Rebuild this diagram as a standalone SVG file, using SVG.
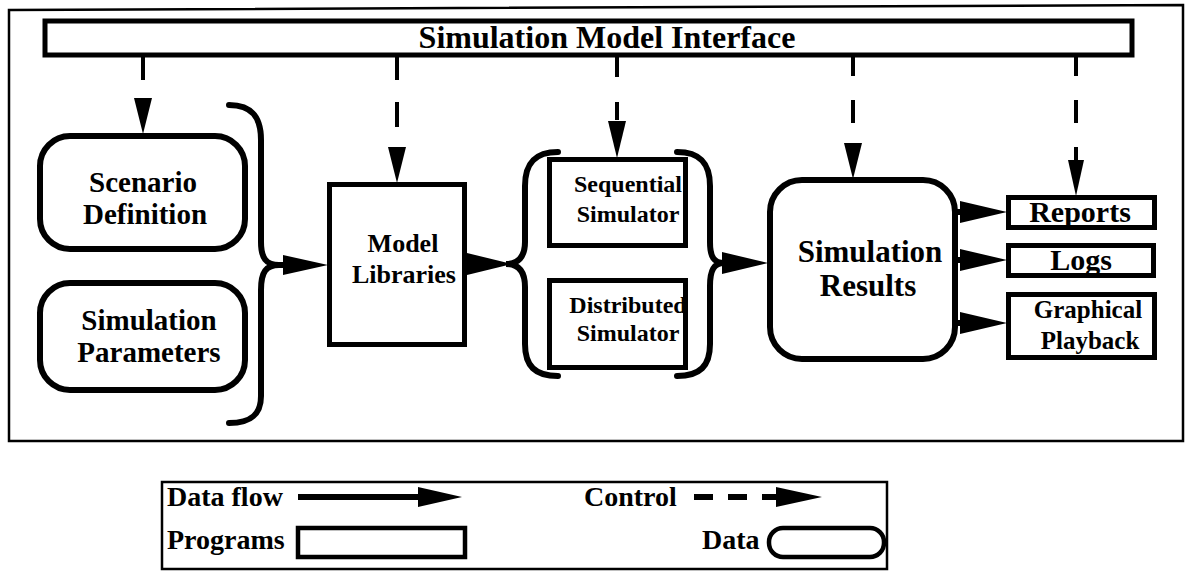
<svg xmlns="http://www.w3.org/2000/svg" width="1186" height="579" viewBox="0 0 1186 579">
<style>
text{font-family:"Liberation Serif","Times New Roman",serif;font-weight:bold;fill:#000}
.c{text-anchor:middle}
.prog{fill:#fff;stroke:#000;stroke-width:5}
.data{fill:#fff;stroke:#000;stroke-width:6}
.brace{fill:none;stroke:#000;stroke-width:6;stroke-linecap:round}
.ctrl{fill:none;stroke:#000;stroke-width:4}
.flow{fill:none;stroke:#000;stroke-width:6}
.head{fill:#000;stroke:none}
.frame{fill:none;stroke:#000;stroke-width:2.5}
</style>
<rect width="1186" height="579" fill="#fff"/>
<path class="frame" d="M9,10 L1183,5 L1183,441 L9,441 Z"/>

<g id="interface">
<rect class="prog" x="45" y="21" width="1087" height="34"/>
<text class="c" x="607" y="48" font-size="32">Simulation Model Interface</text>
</g>

<g id="scenario">
<rect class="data" x="40" y="136" width="205" height="113" rx="30"/>
<text class="c" x="143" y="192" font-size="29">Scenario</text>
<text class="c" x="145" y="224" font-size="29">Definition</text>
</g>

<g id="parameters">
<rect class="data" x="40" y="283" width="205" height="107" rx="30"/>
<text class="c" x="149" y="330" font-size="29">Simulation</text>
<text class="c" x="149" y="362" font-size="29">Parameters</text>
</g>

<g id="brace-inputs">
<path class="brace" d="M229,105 C252,105 261,117 261,140 L261,242 C261,258 266,265 279,265 C266,265 261,272 261,290 L261,396 C261,414 252,423 229,423"/>
</g>

<g id="model-libraries">
<rect class="prog" x="329.5" y="184.5" width="135" height="160"/>
<text class="c" x="403" y="252" font-size="26">Model</text>
<text class="c" x="404" y="283" font-size="26">Libraries</text>
</g>

<g id="brace-simulators">
<path class="brace" d="M558,152 C535,152 525,163 525,186 L525,242 C525,257 518,264 506,264 C518,264 525,271 525,287 L525,344 C525,366 535,376 558,376"/>
<path class="brace" d="M677,152 C700,152 710,163 710,186 L710,242 C710,257 714,263 724,263 C714,263 710,270 710,286 L710,344 C710,366 700,376 677,376"/>
</g>

<g id="sequential-simulator">
<rect class="prog" x="549.5" y="159.5" width="136" height="86"/>
<text class="c" x="628" y="192" font-size="24">Sequential</text>
<text class="c" x="628" y="222" font-size="24">Simulator</text>
</g>

<g id="distributed-simulator">
<rect class="prog" x="549.5" y="280.5" width="136" height="87"/>
<text class="c" x="628" y="313" font-size="24">Distributed</text>
<text class="c" x="628" y="341" font-size="24">Simulator</text>
</g>

<g id="simulation-results">
<rect class="data" x="770" y="180" width="185" height="179" rx="32"/>
<text class="c" x="870" y="262" font-size="31">Simulation</text>
<text class="c" x="868" y="296" font-size="31">Results</text>
</g>

<g id="reports">
<rect class="prog" x="1008.5" y="197.5" width="146" height="30"/>
<text class="c" x="1080" y="222" font-size="30">Reports</text>
</g>

<g id="logs">
<rect class="prog" x="1008.5" y="245.5" width="145" height="30"/>
<text class="c" x="1081" y="270" font-size="30">Logs</text>
</g>

<g id="graphical-playback">
<rect class="prog" x="1008.5" y="294.5" width="146" height="63"/>
<text class="c" x="1088" y="318" font-size="25">Graphical</text>
<text class="c" x="1090" y="349" font-size="25">Playback</text>
</g>

<g id="connectors">
<path class="ctrl" d="M143,57 V80"/>
<polygon class="head" points="134,98 152,98 143,134"/>
<path class="ctrl" d="M397,57 V80 M397,102 V127"/>
<polygon class="head" points="388,147 406,147 397,183"/>
<path class="ctrl" d="M617,57 V77 M617,102 V120"/>
<polygon class="head" points="608,121 626,121 617,158"/>
<path class="ctrl" d="M853,57 V76 M853,100 V123"/>
<polygon class="head" points="844,143 862,143 853,179"/>
<path class="ctrl" d="M1076,57 V76 M1076,100 V123 M1076,147 V162"/>
<polygon class="head" points="1068,160 1084,160 1076,196"/>

<path class="flow" d="M277,265 H290"/>
<polygon class="head" points="283,255 328,265 283,275"/>
<polygon class="head" points="467,253 512,264 467,275"/>
<polygon class="head" points="722,252 768,263 722,274"/>
<path class="flow" d="M955,212 H966 M955,260 H966 M955,323 H966"/>
<polygon class="head" points="960,201 1007,212 960,223"/>
<polygon class="head" points="960,249 1007,260 960,271"/>
<polygon class="head" points="960,312 1007,323 960,334"/>
</g>

<g id="legend">
<path class="frame" d="M162,482 H887 V569 H162 Z"/>
<text x="167" y="506" font-size="28">Data flow</text>
<path class="flow" d="M298,497 H422"/>
<polygon class="head" points="418,487 462,497 418,507"/>
<text x="584" y="506" font-size="28">Control</text>
<path class="flow" d="M694,497 H713 M728,497 H747 M762,497 H780"/>
<polygon class="head" points="776,487 822,497 776,507"/>
<text x="167" y="549" font-size="28">Programs</text>
<rect x="298" y="528" width="167" height="29" fill="#fff" stroke="#000" stroke-width="4.5"/>
<text x="702" y="549" font-size="28">Data</text>
<rect x="769" y="528" width="115" height="29" rx="14" fill="#fff" stroke="#000" stroke-width="4.5"/>
</g>
</svg>
